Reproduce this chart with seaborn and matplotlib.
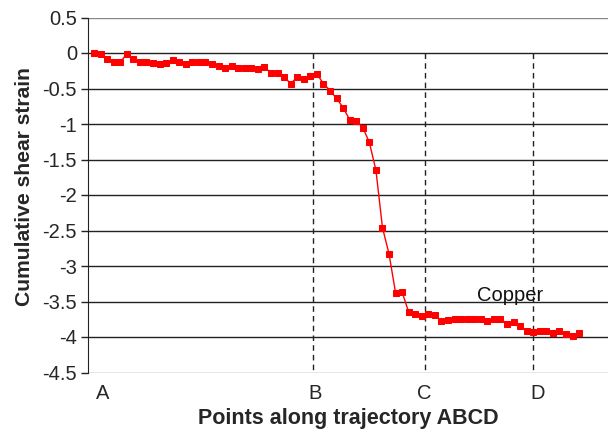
import numpy as np
import pandas as pd
import matplotlib
matplotlib.use("Agg")
import matplotlib.pyplot as plt
import seaborn as sns

# ---- data ----
strain = [
    0.0, -0.01, -0.08, -0.12, -0.13, -0.01, -0.08, -0.12, -0.13, -0.14,
    -0.16, -0.14, -0.10, -0.13, -0.16, -0.13, -0.13, -0.13, -0.16, -0.18,
    -0.21, -0.19, -0.21, -0.21, -0.21, -0.22, -0.20, -0.28, -0.28, -0.34,
    -0.43, -0.34, -0.36, -0.32, -0.30, -0.43, -0.53,
    -0.64, -0.77, -0.94, -0.955, -1.05, -1.26, -1.65, -2.46, -2.83,
    -3.38, -3.37, -3.65, -3.68, -3.71, -3.68, -3.69, -3.78, -3.76, -3.75,
    -3.75, -3.74, -3.75, -3.75, -3.78, -3.75, -3.75, -3.81, -3.785, -3.84,
    -3.92, -3.93, -3.92, -3.92, -3.94, -3.92, -3.96, -3.99, -3.94,
]
point_index = list(range(len(strain)))
corner_labels = ["A", "B", "C", "D"]
corner_label_pos = [1.37, 33.7, 50.35, 67.6]
corner_lines = [33.4, 50.5, 67.0]
y_ticks = [0.5, 0, -0.5, -1, -1.5, -2, -2.5, -3, -3.5, -4, -4.5]
y_tick_labels = ["0.5", "0", "-0.5", "-1", "-1.5", "-2", "-2.5", "-3", "-3.5", "-4", "-4.5"]
series_name = "Copper"

df = pd.DataFrame({"point": point_index, "strain": strain})

sns.set_style("white")
plt.rcParams["font.family"] = ["Liberation Sans", "DejaVu Sans"]

fig = plt.figure(figsize=(6.08, 4.30), dpi=100)
ax = fig.add_axes([88 / 608, 57.5 / 430, 1 - 88 / 608, 355 / 430])

# gridlines
for yv in y_ticks:
    col = "#888888" if yv in (0.5, -4.5) else "#222222"
    ax.axhline(yv, color=col, lw=1.0, zorder=1)

# dashed vertical lines
for xv in corner_lines:
    ax.plot([xv, xv], [0, -4.5], color="#222222", lw=1.0, ls=(0, (4, 3)), zorder=1)

sns.lineplot(data=df, x="point", y="strain", ax=ax, color="#ff0000", lw=1.0,
             marker="s", markersize=4.8, markeredgecolor="#ff0000",
             markerfacecolor="#ff0000", zorder=3)

ax.text(63.5, -3.49, series_name, ha="center", va="baseline", fontsize=14.5, color="#111111")

ax.set_xlim(-0.92, 78.4)
ax.set_ylim(-4.5, 0.5)
ax.set_yticks(y_ticks)
ax.set_yticklabels(y_tick_labels, fontsize=14.5)
ax.set_xticks(corner_label_pos)
ax.set_xticklabels(corner_labels, fontsize=14.5)
ax.tick_params(axis="x", length=0, pad=8)
ax.tick_params(axis="y", length=5, width=1, direction="out", color="#222222", pad=3, left=True)

for s in ["top", "right"]:
    ax.spines[s].set_visible(False)
ax.spines["left"].set_color("#222222")
ax.spines["bottom"].set_visible(False)

ax.set_xlabel("Points along trajectory ABCD", fontsize=15.5, fontweight="bold", labelpad=4)
ax.set_ylabel("Cumulative shear strain", fontsize=15.2, fontweight="bold")
ax.yaxis.set_label_coords(-54 / 520, 0.525)

fig.savefig("out.png", dpi=100)
